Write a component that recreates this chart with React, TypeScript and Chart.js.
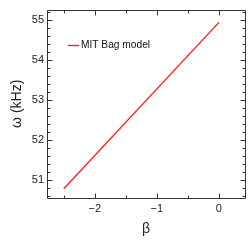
import React, { useEffect, useRef } from "react";
import { Chart, registerables } from "chart.js";

Chart.register(...registerables);

const betaValues = [-2.5, 0];
const omegaValues = [50.77, 54.93];
const seriesLabel = "MIT Bag model";
const xMajorTicks = [-2, -1, 0];
const yMajorTicks = [51, 52, 53, 54, 55];
const xTitle = "β";
const yTitle = "ω (kHz)";

const FONT = "'Liberation Sans', Arial, sans-serif";

const fmt = (v: number) => (v < 0 ? "\u2212" + Math.abs(v) : String(v));

const framePlugin = {
  id: "frameTicks",
  afterDraw(chart: any) {
    const { ctx, chartArea } = chart;
    const { left, right, top, bottom } = chartArea;
    const xs = chart.scales.x;
    const ys = chart.scales.y;
    ctx.save();
    ctx.strokeStyle = "#333";
    ctx.lineWidth = 1;
    const L = Math.round(left) + 0.5;
    const R = Math.round(right) + 0.5;
    const T = Math.round(top) + 0.5;
    const B = Math.round(bottom) + 0.5;
    ctx.beginPath();
    ctx.rect(L, T, R - L, B - T);
    ctx.stroke();
    const major = 5;
    const minor = 3;
    ctx.beginPath();
    const xmin = xs.min, xmax = xs.max;
    for (let v = Math.ceil(xmin * 2) / 2; v <= xmax + 1e-9; v += 0.5) {
      const isMajor = Math.abs(v - Math.round(v)) < 1e-6;
      const len = isMajor ? major : minor;
      const px = Math.round(xs.getPixelForValue(v)) + 0.5;
      ctx.moveTo(px, B);
      ctx.lineTo(px, B - len);
      ctx.moveTo(px, T);
      ctx.lineTo(px, T + len);
    }
    const ymin = ys.min, ymax = ys.max;
    for (let k = Math.ceil(ymin * 5); k <= Math.floor(ymax * 5); k++) {
      const v = k / 5;
      const isMajor = k % 5 === 0;
      const len = isMajor ? major : minor;
      const py = Math.round(ys.getPixelForValue(v)) + 0.5;
      ctx.moveTo(L, py);
      ctx.lineTo(L + len, py);
      ctx.moveTo(R, py);
      ctx.lineTo(R - len, py);
    }
    ctx.stroke();
    // legend
    const ds = chart.data.datasets[0];
    const ly = Math.round(top + 35) + 0.5;
    const lx = left + 21;
    ctx.strokeStyle = ds.borderColor;
    ctx.lineWidth = 1.3;
    ctx.beginPath();
    ctx.moveTo(lx, ly);
    ctx.lineTo(lx + 11, ly);
    ctx.stroke();
    ctx.fillStyle = "#111";
    ctx.font = "10.2px " + FONT;
    ctx.textBaseline = "middle";
    ctx.textAlign = "left";
    ctx.fillText(ds.label, lx + 13, ly);
    ctx.restore();
  },
};

export default function App() {
  const ref = useRef<HTMLCanvasElement | null>(null);
  useEffect(() => {
    if (!ref.current) return;
    const chart = new Chart(ref.current, {
      type: "line",
      data: {
        datasets: [
          {
            label: seriesLabel,
            data: betaValues.map((b, i) => ({ x: b, y: omegaValues[i] })),
            borderColor: "#ff1a1a",
            borderWidth: 1.3,
            pointRadius: 0,
            fill: false,
            tension: 0,
          },
        ],
      },
      options: {
        animation: false,
        responsive: false,
        layout: { padding: { left: 0, top: 7, right: 7, bottom: 0 } },
        plugins: { legend: { display: false }, tooltip: { enabled: false } },
        scales: {
          x: {
            type: "linear",
            min: -2.77,
            max: 0.42,
            grid: { display: false, drawTicks: false },
            border: { display: false },
            afterBuildTicks: (s: any) => {
              s.ticks = xMajorTicks.map((v) => ({ value: v }));
            },
            afterFit: (s: any) => {
              s.height = 46;
            },
            ticks: {
              padding: 4,
              color: "#222",
              font: { family: FONT, size: 11 },
              callback: (v: any) => fmt(Number(v)),
              maxRotation: 0,
            },
            title: {
              display: true,
              text: xTitle,
              color: "#222",
              font: { family: FONT, size: 14 },
              padding: { top: 0, bottom: 6 },
            },
          },
          y: {
            type: "linear",
            min: 50.54,
            max: 55.25,
            grid: { display: false, drawTicks: false },
            border: { display: false },
            afterBuildTicks: (s: any) => {
              s.ticks = yMajorTicks.map((v) => ({ value: v }));
            },
            afterFit: (s: any) => {
              s.width = 47;
            },
            ticks: {
              padding: 3,
              color: "#222",
              font: { family: FONT, size: 11 },
              callback: (v: any) => fmt(Number(v)),
            },
            title: {
              display: true,
              text: yTitle,
              color: "#222",
              font: { family: FONT, size: 14 },
              padding: { top: 9, bottom: 0 },
            },
          },
        },
      },
      plugins: [framePlugin],
    });
    return () => chart.destroy();
  }, []);
  return (
    <div style={{ position: "absolute", left: 0, top: 0, width: 252, height: 244, background: "#fff" }}>
      <canvas ref={ref} width={252} height={244} style={{ display: "block" }} />
    </div>
  );
}
